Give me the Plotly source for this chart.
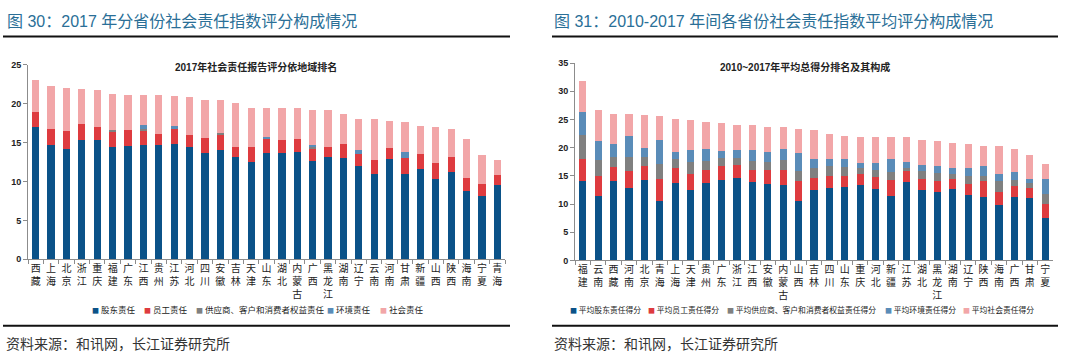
import plotly.graph_objects as go

# ---------------- Left chart data (2017) ----------------
cats1 = ["西藏","上海","北京","浙江","重庆","福建","广东","江西","贵州","江苏","河北","四川","安徽","吉林","天津","山东",
         "湖北","内蒙古","广西","黑龙江","湖南","辽宁","云南","河南","甘肃","新疆","山西","陕西","海南","宁夏","青海"]
shareholder1 = [17.0,14.7,14.2,15.4,15.3,14.4,14.6,14.7,14.7,14.8,14.4,13.7,14.0,13.1,12.5,13.7,
                13.7,13.8,12.7,13.1,13.0,12.0,11.0,12.9,11.0,11.6,10.3,11.2,8.8,8.1,9.5]
employee1 = [2.0,2.0,2.3,2.0,1.7,2.1,2.0,1.9,1.4,2.0,1.6,1.9,2.1,1.4,2.0,1.8,
             1.7,1.7,1.5,1.3,1.8,1.5,1.8,1.4,2.0,1.9,2.1,2.0,1.7,1.6,1.3]
supplier1 = [0,0,0,0,0,0.1,0,0.2,0,0,0,0,0.2,0,0,0,
             0,0,0.2,0,0,0,0,0,0,0,0,0,0,0,0]
environment1 = [0,0,0,0,0,0,0,0.5,0,0.3,0,0,0,0,0,0.2,
                0,0,0.3,0,0,0.5,0,0,0.8,0,0,0,0,0,0]
social1 = [4.1,5.55,5.5,4.5,4.8,4.7,4.6,3.9,5.1,3.85,4.9,4.9,4.2,5.6,4.95,3.7,
           4.0,3.9,4.55,4.85,3.95,4.1,5.2,3.5,3.8,3.6,4.6,3.6,4.95,3.75,2.0]
names1 = ["股东责任","员工责任","供应商、客户和消费者权益责任","环境责任","社会责任"]

# ---------------- Right chart data (2010-2017 average) ----------------
cats2 = ["福建","云南","西藏","河南","北京","青海","上海","天津","贵州","广东","浙江","江西","安徽","内蒙古","山西","吉林",
         "四川","山东","重庆","河北","新疆","江苏","湖北","黑龙江","湖南","辽宁","陕西","海南","广西","甘肃","宁夏"]
shareholder2 = [14.0,11.4,14.1,12.8,14.25,10.5,13.8,12.4,13.8,14.25,14.7,13.9,13.5,13.3,10.5,12.5,
                12.8,13.1,13.4,12.6,11.5,13.85,12.5,12.2,12.6,11.55,11.3,9.8,11.3,11.0,7.5]
employee2 = [3.9,3.6,2.5,3.0,2.45,3.9,2.6,2.9,2.2,2.45,2.25,2.1,2.5,2.8,3.5,2.2,
             2.2,1.9,1.9,2.2,2.75,1.95,2.0,1.9,1.9,1.95,2.7,2.4,1.9,1.9,2.55]
supplier2 = [4.3,2.8,1.7,2.5,1.6,2.7,1.6,2.1,1.7,1.5,1.25,1.7,1.5,1.7,1.8,1.6,
             1.7,1.55,1.0,1.2,1.45,0.6,1.3,1.4,0.9,1.4,0.9,1.8,1.05,0.8,1.65]
environment2 = [4.1,3.3,2.4,3.7,1.6,4.3,1.3,2.2,2.1,1.2,1.3,1.8,1.75,2.0,3.2,1.7,
                1.2,1.35,0.9,1.2,2.2,1.1,1.1,1.2,1.0,1.5,1.8,1.4,1.45,0.7,2.7]
social2 = [5.6,5.6,5.3,4.0,5.85,4.2,5.7,5.3,4.8,4.9,4.6,4.5,4.45,3.9,4.3,5.2,
           4.6,4.2,4.7,4.7,3.9,4.3,4.4,4.4,4.5,4.3,3.6,4.9,4.1,4.3,2.7]
names2 = ["平均股东责任得分","平均员工责任得分","平均供应商、客户和消费者权益责任得分","平均环境责任得分","平均社会责任得分"]

colors = ["#0b5288", "#de3b3f", "#808080", "#5a8cb8", "#f2a6a8"]

W, H = 1080, 360
CJK = "Noto Sans CJK SC"
HEAD = "Liberation Sans, Noto Sans CJK SC"
TEAL = "#2a6f97"

fig = go.Figure()

series1 = [shareholder1, employee1, supplier1, environment1, social1]
series2 = [shareholder2, employee2, supplier2, environment2, social2]
for vals, nm, c in zip(series1, names1, colors):
    fig.add_trace(go.Bar(x=cats1, y=vals, name=nm, marker=dict(color=c, line=dict(width=0)),
                         xaxis="x", yaxis="y", showlegend=False))
for vals, nm, c in zip(series2, names2, colors):
    fig.add_trace(go.Bar(x=cats2, y=vals, name=nm, marker=dict(color=c, line=dict(width=0)),
                         xaxis="x2", yaxis="y2", showlegend=False))

def vert(s):
    return "<br>".join(list(s))

axis_common = dict(showline=True, linecolor="#8c8c8c", linewidth=1, showgrid=False, zeroline=False,
                   ticks="outside", ticklen=4, tickcolor="#8c8c8c")

fig.update_layout(
    width=W, height=H, margin=dict(l=0, r=0, t=0, b=0),
    paper_bgcolor="white", plot_bgcolor="white",
    barmode="stack", bargap=0.53,
    font=dict(family=CJK, size=10, color="#222"),
    xaxis=dict(domain=[28/W, 505/W], anchor="y", type="category", tickson="boundaries",
               tickvals=cats1, ticktext=[vert(c) for c in cats1],
               tickfont=dict(family=CJK, size=10, color="#222"), tickangle=0, **axis_common),
    yaxis=dict(domain=[1-261.5/H, 1-61.7/H], anchor="x", range=[0, 25], dtick=5,
               tickfont=dict(family="Liberation Sans", size=9, color="#222", weight="bold"), **axis_common),
    xaxis2=dict(domain=[575/W, 1053/W], anchor="y2", type="category", tickson="boundaries",
                tickvals=cats2, ticktext=[vert(c) for c in cats2],
                tickfont=dict(family=CJK, size=10, color="#222"), tickangle=0, **axis_common),
    yaxis2=dict(domain=[1-262.7/H, 1-59.7/H], anchor="x2", range=[0, 35], dtick=5,
                tickfont=dict(family="Liberation Sans", size=9, color="#222", weight="bold"), **axis_common),
)

ann = []
# Headers
ann.append(dict(text="图 30：2017 年分省份社会责任指数评分构成情况", x=5/W, y=1-17/H, xref="paper", yref="paper",
                xanchor="left", yanchor="middle", showarrow=False, font=dict(family=HEAD, size=16, color=TEAL)))
ann.append(dict(text="图 31：2010-2017 年间各省份社会责任指数平均评分构成情况", x=552/W, y=1-17/H, xref="paper", yref="paper",
                xanchor="left", yanchor="middle", showarrow=False, font=dict(family=HEAD, size=16, color=TEAL)))
# Chart titles
ann.append(dict(text="<b>2017年社会责任报告评分依地域排名</b>", x=256/W, y=1-64/H, xref="paper", yref="paper",
                xanchor="center", yanchor="middle", showarrow=False, font=dict(family=HEAD, size=10, color="#222")))
ann.append(dict(text="<b>2010~2017年平均总得分排名及其构成</b>", x=805/W, y=1-64/H, xref="paper", yref="paper",
                xanchor="center", yanchor="middle", showarrow=False, font=dict(family=HEAD, size=10, color="#222")))
# Sources
for sx in (4, 552):
    ann.append(dict(text="资料来源：和讯网，长江证券研究所", x=sx/W, y=1-348/H, xref="paper", yref="paper",
                    xanchor="left", yanchor="middle", showarrow=False, font=dict(family=CJK, size=14, color="#333")))

# Legends (manual, colored squares + labels)
leg1_x = [90, 142, 194, 325, 378]
leg2_x = [568, 646, 725, 883, 961]
for nm, c, lx in zip(names1, colors, leg1_x):
    ann.append(dict(text=f"<span style='color:{c};font-size:7px'>■</span> {nm}", x=lx/W, y=1-313/H, xref="paper", yref="paper",
                    xanchor="left", yanchor="middle", showarrow=False, font=dict(family=CJK, size=8.5, color="#222")))
for nm, c, lx in zip(names2, colors, leg2_x):
    ann.append(dict(text=f"<span style='color:{c};font-size:7px'>■</span> {nm}", x=lx/W, y=1-313/H, xref="paper", yref="paper",
                    xanchor="left", yanchor="middle", showarrow=False, font=dict(family=CJK, size=7.8, color="#222")))
fig.update_layout(annotations=ann)

shapes = []
for (x0, x1) in ((3, 510), (552, 1058)):
    for yy in (32.5, 330):
        shapes.append(dict(type="line", xref="paper", yref="paper", x0=x0/W, x1=x1/W, y0=1-yy/H, y1=1-yy/H,
                           line=dict(color="#111", width=2)))
fig.update_layout(shapes=shapes)

fig.write_html("out.html", config={"displayModeBar": False},
               post_script="document.body.style.margin='0';document.body.style.overflow='hidden';")
